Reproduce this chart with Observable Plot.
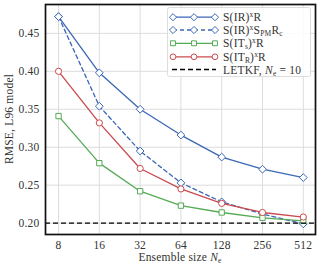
<!DOCTYPE html>
<html>
<head>
<meta charset="utf-8">
<script src="https://cdn.jsdelivr.net/npm/d3@7"></script>
<script src="https://cdn.jsdelivr.net/npm/@observablehq/plot@0.6"></script>
<style>
  html, body { margin: 0; padding: 0; background: white; }
  svg text { font-family: "Liberation Serif", "DejaVu Serif", serif !important; letter-spacing: 0.2px; }
</style>
</head>
<body>
<div id="chart"></div>
<script>
const ensembleSizes = [8, 16, 32, 64, 128, 256, 512];
const rmseIRR   = [0.472, 0.398, 0.350, 0.316, 0.287, 0.271, 0.260];
const rmseIRSpm = [0.472, 0.354, 0.295, 0.253, 0.228, 0.212, 0.199];
const rmseITsR  = [0.341, 0.279, 0.242, 0.223, 0.214, 0.207, 0.203];
const rmseITRR  = [0.400, 0.332, 0.272, 0.245, 0.226, 0.214, 0.208];
const letkfRmse = 0.200;
const yTicks = [0.20, 0.25, 0.30, 0.35, 0.40, 0.45];
const xTicks = [8, 16, 32, 64, 128, 256, 512];

const blue = "#3b67b6", green = "#55aa55", red = "#cc4a4e";

const series = [
  {key: "IRR", values: rmseIRR, color: blue, symbol: "diamond2", r: 3.5, dash: null},
  {key: "IRSpm", values: rmseIRSpm, color: blue, symbol: "diamond2", r: 3.5, dash: "4,3"},
  {key: "ITsR", values: rmseITsR, color: green, symbol: "square", r: 3.0, dash: null},
  {key: "ITRR", values: rmseITRR, color: red, symbol: "circle", r: 3.1, dash: null}
];

const marks = [
  Plot.gridX(xTicks, {stroke: "#dcdcdc", strokeOpacity: 1, strokeWidth: 1}),
  Plot.gridY(yTicks, {stroke: "#dcdcdc", strokeOpacity: 1, strokeWidth: 1}),
  Plot.axisX(xTicks, {tickSize: 0, tickPadding: 6, label: null, tickFormat: d => String(d), fill: "#333"}),
  Plot.axisY(yTicks, {tickSize: 0, tickPadding: 6, label: null, tickFormat: d => d.toFixed(2), fill: "#333"})
];
for (const s of series) {
  const data = ensembleSizes.map((n, i) => ({n, v: s.values[i]}));
  marks.push(Plot.line(data, {x: "n", y: "v", stroke: s.color, strokeWidth: 1.3, strokeDasharray: s.dash}));
  marks.push(Plot.dot(data, {x: "n", y: "v", symbol: s.symbol, r: s.r, stroke: s.color, fill: "white", strokeWidth: 1}));
}
marks.push(Plot.ruleY([letkfRmse], {stroke: "black", strokeWidth: 1.4, strokeDasharray: "5,3"}));
marks.push(Plot.frame({stroke: "#111", strokeWidth: 1.7}));

const chart = Plot.plot({
  width: 320, height: 272,
  marginLeft: 45, marginRight: 5, marginTop: 4, marginBottom: 38,
  style: {fontFamily: "Liberation Serif", fontSize: "11.5px", background: "white", color: "#333"},
  x: {type: "log", base: 2, domain: [6.41, 630]},
  y: {domain: [0.185, 0.488]},
  marks
});
document.getElementById("chart").appendChild(chart);

// axis labels and legend
const svg = d3.select(chart);
const xl = svg.append("text").attr("x", 180).attr("y", 261).attr("text-anchor", "middle")
  .attr("font-size", 11.5).attr("fill", "#333");
xl.append("tspan").text("Ensemble size ");
xl.append("tspan").attr("font-style", "italic").text("N");
xl.append("tspan").attr("font-size", 7.5).attr("dy", 2).text("e");

svg.append("text").attr("transform", "translate(12.5,119) rotate(-90)").attr("text-anchor", "middle")
  .attr("font-size", 11.5).attr("fill", "#333")
  .text("RMSE, L96 model");

const lg = svg.append("g").attr("font-size", 11.5).attr("fill", "#333").attr("text-anchor", "start");
lg.append("rect").attr("x", 167.5).attr("y", 7.5).attr("width", 143).attr("height", 69).attr("rx", 2)
  .attr("fill", "white").attr("fill-opacity", 0.85).attr("stroke", "#ddd");
const rowsY = [17.2, 30, 43.3, 56.8, 69.5];
const symPath = (name, r) => {
  const m = {diamond2: d3.symbolDiamond2, square: d3.symbolSquare, circle: d3.symbolCircle}[name];
  return d3.symbol(m, Math.PI * r * r)();
};
series.forEach((s, i) => {
  const y = rowsY[i];
  lg.append("line").attr("x1", 173).attr("x2", 215).attr("y1", y).attr("y2", y)
    .attr("stroke", s.color).attr("stroke-width", 1.3).attr("stroke-dasharray", s.dash);
  [173, 194, 215].forEach(x => lg.append("path").attr("d", symPath(s.symbol, s.r * 0.92))
    .attr("transform", `translate(${x},${y})`).attr("fill", "white").attr("stroke", s.color));
});
lg.append("line").attr("x1", 172).attr("x2", 216).attr("y1", rowsY[4]).attr("y2", rowsY[4])
  .attr("stroke", "black").attr("stroke-width", 1.4).attr("stroke-dasharray", "5,3");

function legendText(y, parts) {
  const t = lg.append("text").attr("x", 223).attr("y", y + 4).attr("text-anchor", "start");
  let shift = 0;
  for (const p of parts) {
    const sp = t.append("tspan").text(p.t);
    const target = p.sup ? -4 : p.sub ? 2 : 0;
    sp.attr("dy", target - shift);
    shift = target;
    if (p.sup || p.sub) sp.attr("font-size", 7.5);
    if (p.it) sp.attr("font-style", "italic");
  }
}
legendText(rowsY[0], [{t: "S(IR)"}, {t: "x", sup: true}, {t: "R"}]);
legendText(rowsY[1], [{t: "S(IR)"}, {t: "x", sup: true}, {t: "S"}, {t: "PM", sub: true}, {t: "R"}, {t: "c", sub: true}]);
legendText(rowsY[2], [{t: "S(IT"}, {t: "s", sub: true}, {t: ")"}, {t: "x", sup: true}, {t: "R"}]);
legendText(rowsY[3], [{t: "S(IT"}, {t: "R", sub: true}, {t: ")"}, {t: "x", sup: true}, {t: "R"}]);
legendText(rowsY[4], [{t: "LETKF, "}, {t: "N", it: true}, {t: "e", sub: true}, {t: " = 10"}]);
</script>
</body>
</html>
